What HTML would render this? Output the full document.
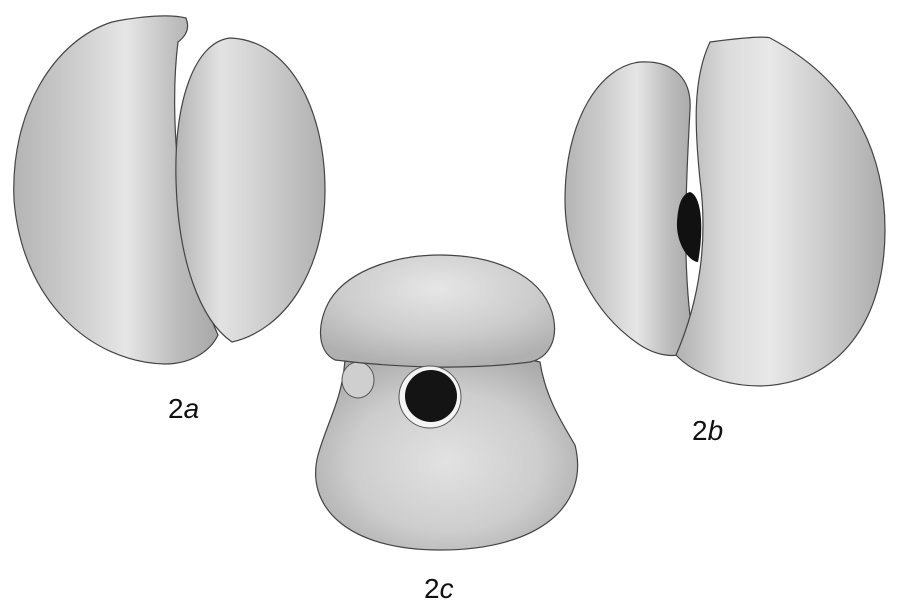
<!DOCTYPE html>
<html><head><meta charset="utf-8"><style>
html,body{margin:0;padding:0;background:#fff;}
svg{display:block}
text{font-family:"Liberation Sans",sans-serif;fill:#111}
</style></head><body>
<svg width="899" height="610" viewBox="0 0 899 610" xmlns="http://www.w3.org/2000/svg">
<defs>
<linearGradient id="gL" x1="0" y1="0" x2="1" y2="0">
<stop offset="0" stop-color="#b4b4b4"/><stop offset="0.3" stop-color="#cdcdcd"/><stop offset="0.55" stop-color="#e6e6e6"/><stop offset="0.8" stop-color="#bcbcbc"/><stop offset="1" stop-color="#a8a8a8"/></linearGradient>
<linearGradient id="gR" x1="0" y1="0" x2="1" y2="0">
<stop offset="0" stop-color="#b4b4b4"/><stop offset="0.3" stop-color="#e2e2e2"/><stop offset="0.55" stop-color="#d2d2d2"/><stop offset="1" stop-color="#b0b0b0"/></linearGradient>
<linearGradient id="gB" x1="0" y1="0" x2="1" y2="0">
<stop offset="0" stop-color="#b0b0b0"/><stop offset="0.25" stop-color="#dcdcdc"/><stop offset="0.45" stop-color="#e8e8e8"/><stop offset="0.75" stop-color="#c8c8c8"/><stop offset="1" stop-color="#acacac"/></linearGradient>
<radialGradient id="gCap" cx="0.5" cy="0.3" r="0.7">
<stop offset="0" stop-color="#e6e6e6"/><stop offset="0.6" stop-color="#cccccc"/><stop offset="1" stop-color="#b0b0b0"/></radialGradient>
<radialGradient id="gBody" cx="0.5" cy="0.55" r="0.6">
<stop offset="0" stop-color="#e2e2e2"/><stop offset="0.6" stop-color="#cdcdcd"/><stop offset="1" stop-color="#aaaaaa"/></radialGradient>
</defs>

<g>
<path d="M112,22 C140,16 170,14 186,18 C190,28 186,36 178,42 C168,120 180,250 218,335 C210,352 190,364 165,364 C90,362 22,300 14,200 C10,110 55,40 112,22 Z" fill="url(#gL)" stroke="#444" stroke-width="1.2"/>
<path d="M230,38 C290,40 325,110 325,190 C325,270 285,330 232,342 C200,320 178,260 176,180 C174,100 195,42 230,38 Z" fill="url(#gR)" stroke="#444" stroke-width="1.2"/>
<text x="168" y="418" font-size="28">2<tspan font-style="italic">a</tspan></text>
</g>

<g>
<path d="M640,62 C675,60 692,80 690,110 C685,200 682,280 695,350 C680,358 660,358 640,345 C595,315 565,260 565,200 C565,120 600,66 640,62 Z" fill="url(#gL)" stroke="#444" stroke-width="1.2"/>
<path d="M710,42 C740,38 765,36 770,38 C850,80 885,150 885,230 C885,320 840,384 760,386 C720,386 690,370 676,355 C700,300 708,240 700,180 C695,130 692,80 710,42 Z" fill="url(#gB)" stroke="#444" stroke-width="1.2"/>
<path d="M690,192 C702,196 704,230 698,262 C690,262 676,245 677,222 C678,204 682,194 690,192 Z" fill="#111"/>
<text x="692" y="440" font-size="28">2<tspan font-style="italic">b</tspan></text>
</g>

<g>
<path d="M345,360 C420,352 500,352 540,362 C545,395 560,420 575,445 C590,505 540,550 440,550 C345,550 305,505 318,455 C328,420 342,400 345,360 Z" fill="url(#gBody)" stroke="#444" stroke-width="1.2"/>
<ellipse cx="358" cy="380" rx="16" ry="18" fill="#cfcfcf" stroke="#555" stroke-width="1"/>
<path d="M330,300 C350,268 400,255 440,255 C495,255 540,275 552,312 C560,340 548,358 530,362 C470,370 400,368 335,360 C315,350 318,320 330,300 Z" fill="url(#gCap)" stroke="#444" stroke-width="1.2"/>
<circle cx="430" cy="397" r="31" fill="#f4f4f4" stroke="#555" stroke-width="1"/>
<circle cx="431" cy="396" r="26" fill="#141414"/>
<text x="424" y="598" font-size="28">2<tspan font-style="italic">c</tspan></text>
</g>
</svg>
</body></html>
